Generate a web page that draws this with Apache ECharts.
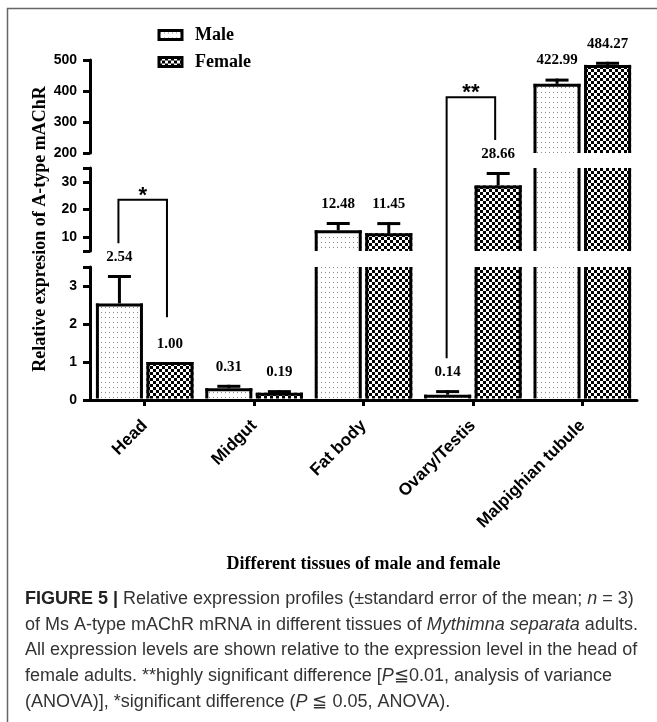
<!DOCTYPE html>
<html>
<head>
<meta charset="utf-8">
<script src="https://cdn.jsdelivr.net/npm/echarts@6/dist/echarts.min.js"></script>
<style>
html,body{margin:0;padding:0;background:#fff;}
#chart{width:657px;height:722px;}
</style>
</head>
<body>
<div id="chart"></div>
<script>
// ---------- data ----------
const categories = ['Head', 'Midgut', 'Fat body', 'Ovary/Testis', 'Malpighian tubule'];
const seriesNames = ['Male', 'Female'];
const maleValues = [2.54, 0.31, 12.48, 0.14, 422.99];
const femaleValues = [1.00, 0.19, 11.45, 28.66, 484.27];
const maleErrors = [0.75, 0.09, 3.0, 0.12, 17];
const femaleErrors = [0, 0.07, 4.0, 4.9, 10];
// broken axis segments (bottom, middle, top)
const segMins = [0, 5, 200];
const segMaxs = [3.5, 35, 500];
const segTicks = [[0, 1, 2, 3, 3.5], [5, 10, 20, 30, 35], [200, 300, 400, 500]];
const segLabels = [[0, 1, 2, 3], [10, 20, 30], [200, 300, 400, 500]];
// significance brackets: category, mark, [segment, value] for top and leg ends
const bracketCats = [0, 3];
const bracketMarks = ['*', '**'];
const bracketTop = [[1, 23.5], [2, 380]];
const bracketLeftEnd = [[1, 7.8], [0, 1.1]];
const bracketRightEnd = [[0, 2.18], [2, 242]];
const xTitle = 'Different tissues of male and female';
const yTitle = 'Relative expresion of A-type mAChR';
const captionLines = [
  '{b|FIGURE 5 |} Relative expression profiles (±standard error of the mean; {i|n} = 3)',
  'of Ms A-type mAChR mRNA in different tissues of {i|Mythimna separata} adults.',
  'All expression levels are shown relative to the expression level in the head of',
  'female adults. **highly significant difference [{i|P}≦0.01, analysis of variance',
  '(ANOVA)], *significant difference ({i|P} ≦ 0.05, ANOVA).'
];

// ---------- patterns ----------
function dotPattern() {
  const c = document.createElement('canvas');
  c.width = 4; c.height = 5;
  const g = c.getContext('2d');
  g.fillStyle = '#fff'; g.fillRect(0, 0, 4, 5);
  g.fillStyle = '#8c8c8c'; g.fillRect(1, 2, 1, 1);
  return { image: c, repeat: 'repeat' };
}
function checkerPattern() {
  const c = document.createElement('canvas');
  c.width = 6; c.height = 6;
  const g = c.getContext('2d');
  g.fillStyle = '#fff'; g.fillRect(0, 0, 6, 6);
  g.fillStyle = '#000'; g.fillRect(0, 0, 3, 3); g.fillRect(3, 3, 3, 3);
  return { image: c, repeat: 'repeat' };
}
const patterns = [dotPattern(), checkerPattern()];

const chart = echarts.init(document.getElementById('chart'), null, { renderer: 'canvas' });

const PLOT_LEFT = 90, PLOT_WIDTH = 547;
const gridBoxes = [
  { top: 267, height: 133 },
  { top: 168, height: 83 },
  { top: 60, height: 93 }
];
const SERIF = '"Liberation Serif", "Times New Roman", serif';
const SANS = '"Liberation Sans", Arial, sans-serif';

function makeRender(sign, pattern) {
  return function (params, api) {
    const cs = params.coordSys;
    const ci = api.value(0), v = api.value(1), e = api.value(2);
    const band = api.size([1, 0])[0];
    const cx = api.coord([ci, 0])[0] + sign * band * 0.231;
    const half = band * 0.215;
    const yTop = api.coord([ci, v])[1];
    const yBase = api.coord([ci, 0])[1];
    const gTop = cs.y, gBot = cs.y + cs.height;
    const y0 = Math.max(yTop, gTop);
    const y1 = Math.min(yBase - 1.5, gBot);
    if (y1 - y0 <= 0) return null;
    const lw = 3;
    const children = [
      { type: 'rect', shape: { x: cx - half, y: y0, width: half * 2, height: y1 - y0 }, style: { fill: pattern } },
      { type: 'line', shape: { x1: cx - half + lw / 2, y1: y0, x2: cx - half + lw / 2, y2: y1 }, style: { stroke: '#000', lineWidth: lw } },
      { type: 'line', shape: { x1: cx + half - lw / 2, y1: y0, x2: cx + half - lw / 2, y2: y1 }, style: { stroke: '#000', lineWidth: lw } }
    ];
    if (yTop >= gTop - 0.5) {
      children.push({ type: 'line', shape: { x1: cx - half, y1: yTop + lw / 2, x2: cx + half, y2: yTop + lw / 2 }, style: { stroke: '#000', lineWidth: lw } });
      const yErr = api.coord([ci, v + e])[1];
      if (e > 0) {
        children.push({ type: 'line', shape: { x1: cx, y1: yTop, x2: cx, y2: yErr }, style: { stroke: '#000', lineWidth: 3 } });
        children.push({ type: 'line', shape: { x1: cx - 11.5, y1: yErr + 1.5, x2: cx + 11.5, y2: yErr + 1.5 }, style: { stroke: '#000', lineWidth: 3 } });
      }
      children.push({
        type: 'text',
        style: {
          text: v.toFixed(2), x: cx, y: yErr - 18, align: 'center', verticalAlign: 'middle',
          font: 'bold 15px ' + SERIF, fill: '#000'
        }
      });
    }
    return { type: 'group', children: children };
  };
}

const valuesBySex = [maleValues, femaleValues];
const errorsBySex = [maleErrors, femaleErrors];

const grid = gridBoxes.map(b => ({ left: PLOT_LEFT, width: PLOT_WIDTH, top: b.top, height: b.height }));
const xAxis = gridBoxes.map((b, g) => ({
  type: 'category', gridIndex: g, data: categories, show: g === 0,
  axisLine: { show: true, lineStyle: { color: '#000', width: 3 } },
  axisTick: { show: true, alignWithLabel: true, length: 6, lineStyle: { color: '#000', width: 3 } },
  axisLabel: { rotate: 45, margin: 23, color: '#000', fontFamily: SANS, fontWeight: 'bold', fontSize: 17 },
  name: g === 0 ? xTitle : '', nameLocation: 'middle', nameGap: 155,
  nameTextStyle: { color: '#000', fontFamily: SERIF, fontWeight: 'bold', fontSize: 18 }
}));
const yAxis = gridBoxes.map((b, g) => ({
  type: 'value', gridIndex: g, min: segMins[g], max: segMaxs[g],
  splitLine: { show: false },
  axisLine: { show: true, lineStyle: { color: '#000', width: 3 } },
  axisTick: { show: true, length: 7, customValues: segTicks[g], lineStyle: { color: '#000', width: 3 } },
  axisLabel: { customValues: segLabels[g], margin: 13, color: '#000', fontFamily: SANS, fontWeight: 'bold', fontSize: 14 }
}));

const series = [];
gridBoxes.forEach((b, g) => {
  [0, 1].forEach(s => {
    series.push({
      type: 'custom', name: seriesNames[s], xAxisIndex: g, yAxisIndex: g,
      itemStyle: { color: patterns[s], borderColor: '#000', borderWidth: 3 },
      renderItem: makeRender(s === 0 ? -1 : 1, patterns[s]),
      encode: { x: 0, y: 1 },
      data: valuesBySex[s].map((v, i) => [i, v, errorsBySex[s][i]])
    });
  });
});

chart.setOption({
  animation: false,
  backgroundColor: '#fff',
  grid: grid, xAxis: xAxis, yAxis: yAxis, series: series,
  legend: {
    orient: 'vertical', left: 152.5, top: 21, itemWidth: 23, itemHeight: 9, itemGap: 9,
    icon: 'rect', selectedMode: false,
    data: seriesNames.map((n, s) => ({ name: n, itemStyle: { color: patterns[s], borderColor: '#000', borderWidth: 3 } })),
    textStyle: { color: '#000', fontFamily: SERIF, fontWeight: 'bold', fontSize: 18, lineHeight: 16, padding: [0, 0, 0, 8] }
  }
});

// ---------- annotations computed through the axes ----------
function px(seg, ci, v) {
  return chart.convertToPixel({ xAxisIndex: seg, yAxisIndex: seg }, [ci, v]);
}
const band = px(0, 1, 0)[0] - px(0, 0, 0)[0];
const graphics = [];
graphics.push({ type: 'rect', shape: { x: 7.5, y: 8.5, width: 720, height: 800 }, style: { fill: 'none', stroke: '#666', lineWidth: 1.5 }, silent: true });
graphics.push({ type: 'text', x: 40, y: 229, rotation: Math.PI / 2, style: { text: yTitle, align: 'center', verticalAlign: 'middle', font: 'bold 18px ' + SERIF, fill: '#000' } });
bracketCats.forEach((ci, k) => {
  const xl = px(0, ci, 0)[0] - band * 0.231 - 1;
  const xr = px(0, ci, 0)[0] + band * 0.231 - 3;
  const yt = px(bracketTop[k][0], ci, bracketTop[k][1])[1];
  const yl = px(bracketLeftEnd[k][0], ci, bracketLeftEnd[k][1])[1];
  const yr = px(bracketRightEnd[k][0], ci, bracketRightEnd[k][1])[1];
  graphics.push({ type: 'polyline', shape: { points: [[xl, yl], [xl, yt], [xr, yt], [xr, yr]] }, style: { stroke: '#000', lineWidth: 2, fill: 'none' } });
  graphics.push({ type: 'text', x: (xl + xr) / 2, y: yt - 4, style: { text: bracketMarks[k], align: 'center', verticalAlign: 'middle', font: 'bold 22px ' + SANS, fill: '#000' } });
});
const capY = [599, 625, 650, 676, 702];
captionLines.forEach((t, i) => {
  graphics.push({
    type: 'text', x: 25, y: capY[i],
    style: {
      text: t, align: 'left', verticalAlign: 'middle',
      fontFamily: SANS, fontSize: 18, fill: '#333',
      rich: {
        b: { fontFamily: SANS, fontSize: 18, fontWeight: 'bold', fill: '#222' },
        i: { fontFamily: SANS, fontSize: 18, fontStyle: 'italic', fill: '#333' }
      }
    }
  });
});
chart.setOption({ graphic: graphics });
</script>
</body>
</html>
